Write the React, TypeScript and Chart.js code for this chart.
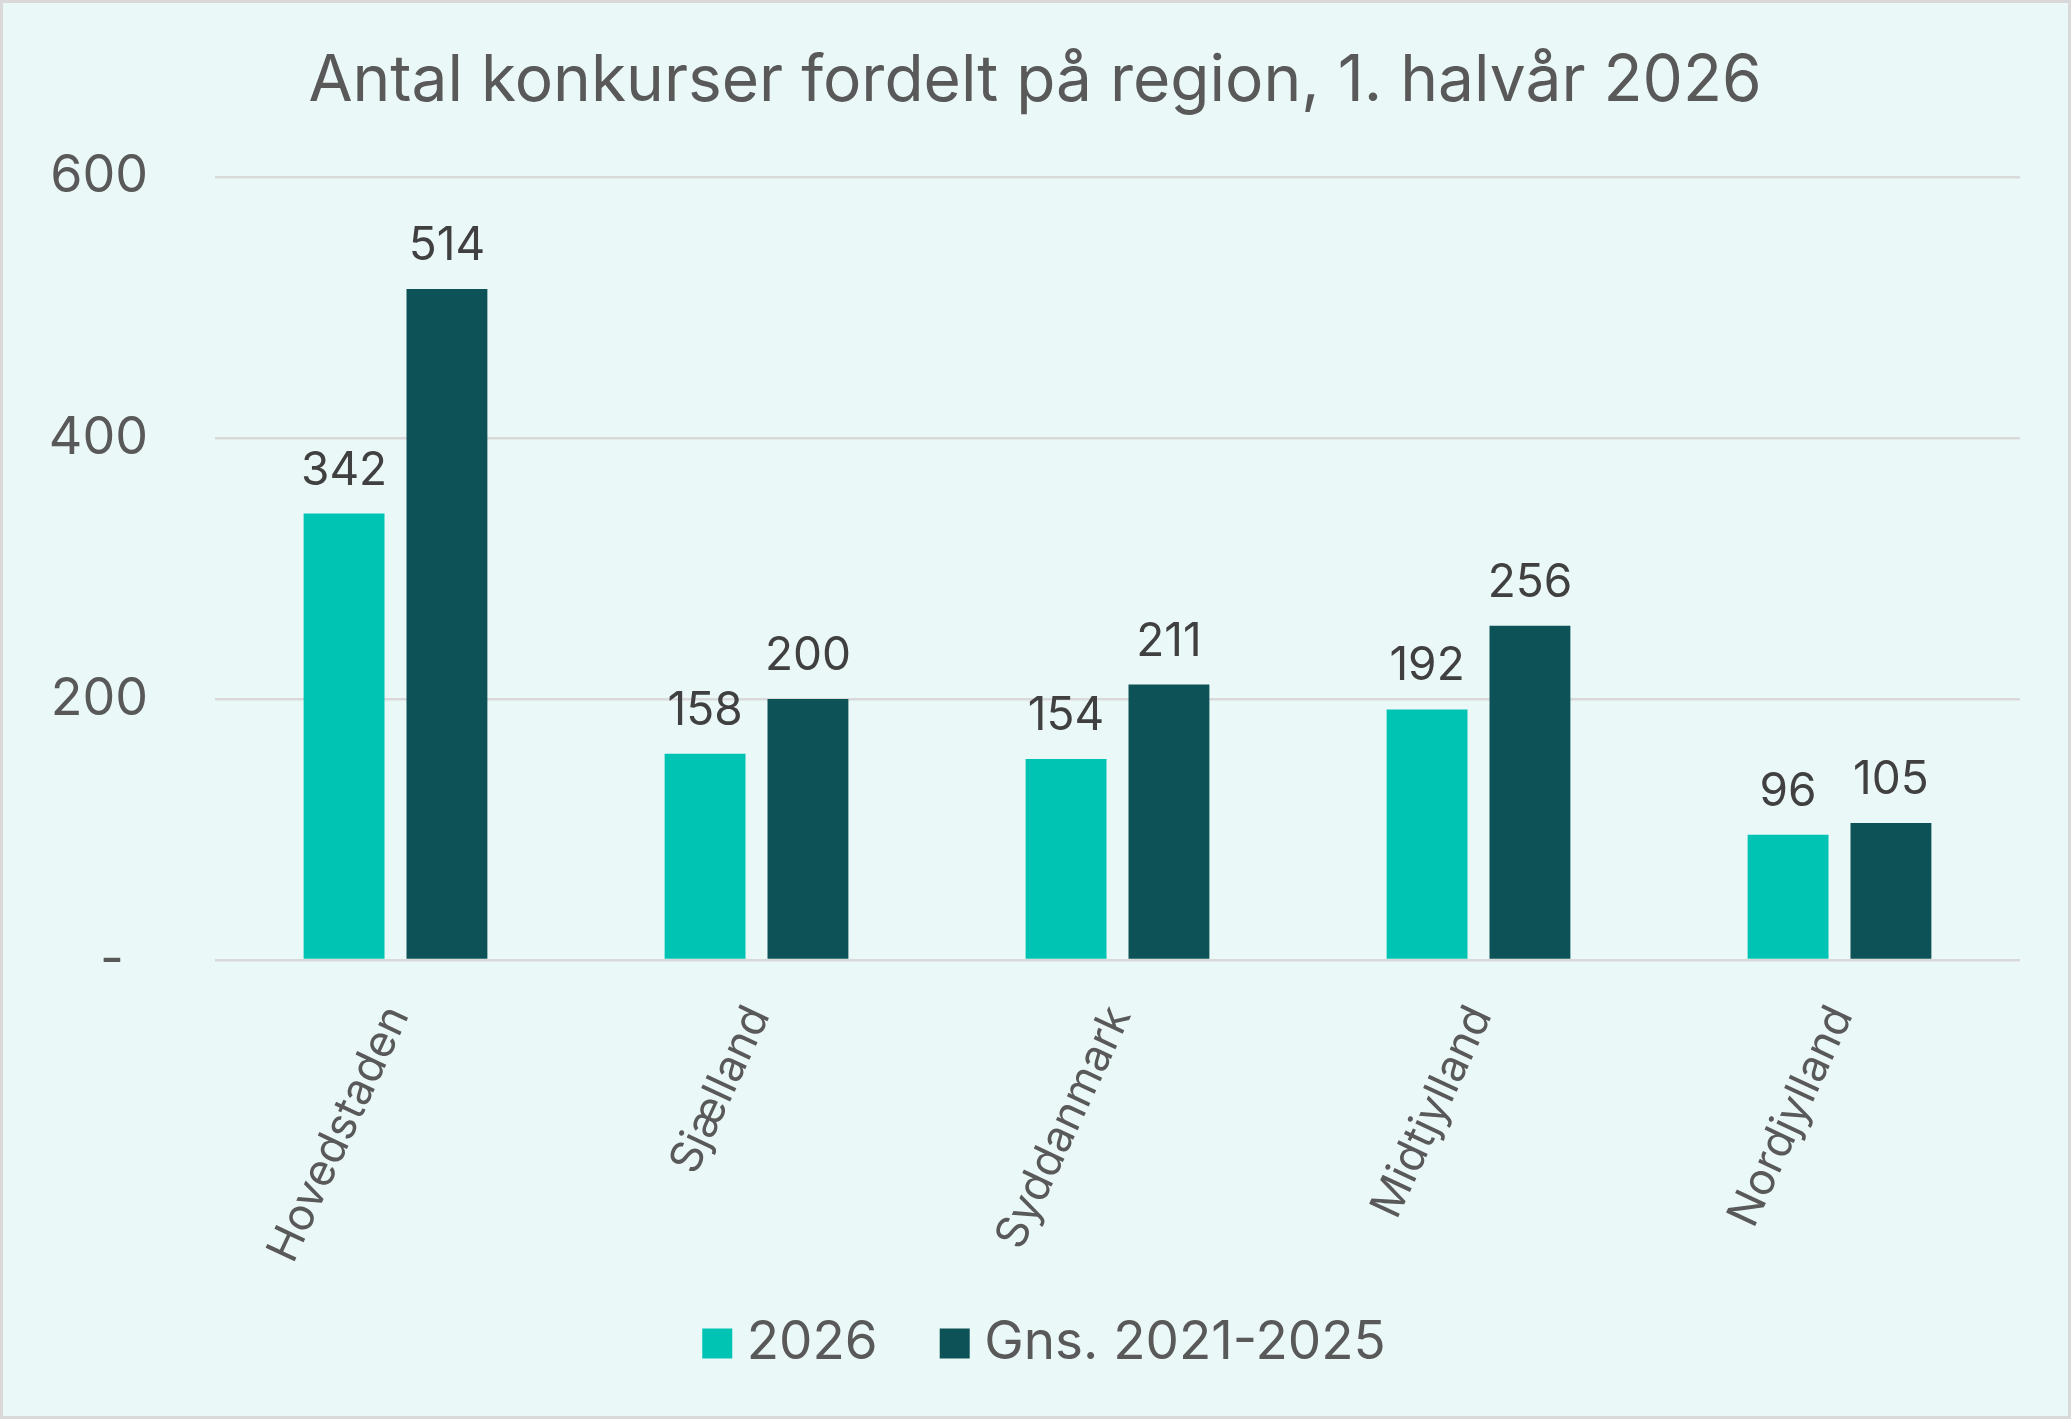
import { useEffect, useRef } from 'react';
import Chart from 'chart.js/auto';

const regions = ['Hovedstaden', 'Sjælland', 'Syddanmark', 'Midtjylland', 'Nordjylland'];
const values2026 = [342, 158, 154, 192, 96];
const valuesAvg = [514, 200, 211, 256, 105];
const seriesNames = ['2026', 'Gns. 2021-2025'];
const yTicks = [0, 200, 400, 600];

const FONT = 'Inter, "Noto Sans", sans-serif';
const TEXT = '#595959';

// draws the values above each bar
const valueLabels = {
  id: 'valueLabels',
  afterDatasetsDraw(chart: any) {
    const ctx = chart.ctx;
    ctx.save();
    ctx.font = `46px ${FONT}`;
    ctx.fillStyle = '#404040';
    ctx.textAlign = 'center';
    ctx.textBaseline = 'alphabetic';
    chart.data.datasets.forEach((ds: any, i: number) => {
      const meta = chart.getDatasetMeta(i);
      meta.data.forEach((bar: any, j: number) => {
        ctx.fillText(String(ds.data[j]), bar.x, bar.y - 29);
      });
    });
    ctx.restore();
  },
};

// background and thin frame, plus a small nudge of the legend row
const frame = {
  id: 'frame',
  afterLayout(chart: any) {
    const lg = chart.legend;
    if (lg) {
      lg.left += 15;
      lg.right += 15;
      lg.top -= 27;
      lg.bottom -= 27;
    }
  },
  beforeDraw(chart: any) {
    const { ctx, width, height } = chart;
    ctx.save();
    ctx.fillStyle = '#EAF8F7';
    ctx.fillRect(0, 0, width, height);
    ctx.strokeStyle = '#D9D9D9';
    ctx.lineWidth = 3;
    ctx.strokeRect(1.5, 1.5, width - 3, height - 3);
    ctx.restore();
  },
};

const App = () => {
  const chartRef = useRef<HTMLCanvasElement>(null);
  const chartInstance = useRef<Chart | null>(null);

  useEffect(() => {
    document.body.style.margin = '0';
    if (!chartRef.current) return;
    if (chartInstance.current) chartInstance.current.destroy();

    chartInstance.current = new Chart(chartRef.current, {
      type: 'bar',
      data: {
        labels: regions,
        datasets: [
          {
            label: seriesNames[0],
            data: values2026,
            backgroundColor: '#00C4B3',
            categoryPercentage: 0.57,
            barPercentage: 0.786,
          },
          {
            label: seriesNames[1],
            data: valuesAvg,
            backgroundColor: '#0D5257',
            categoryPercentage: 0.57,
            barPercentage: 0.786,
          },
        ],
      },
      options: {
        animation: false,
        responsive: true,
        maintainAspectRatio: false,
        layout: { padding: { left: 50, right: 51, top: 0, bottom: 12 } },
        plugins: {
          title: {
            display: true,
            text: 'Antal konkurser fordelt på region, 1. halvår 2026',
            color: TEXT,
            font: { family: FONT, size: 64, weight: 'normal', lineHeight: 1.2 },
            padding: { top: 43, bottom: 57 },
          },
          legend: {
            position: 'bottom',
            labels: {
              usePointStyle: true,
              pointStyle: 'rect',
              boxWidth: 6,
              boxHeight: 30,
              padding: 74,
              color: TEXT,
              font: { family: FONT, size: 53 },
            },
          },
          tooltip: { enabled: false },
        },
        scales: {
          x: {
            grid: { display: false },
            border: { display: false },
            ticks: {
              color: TEXT,
              font: { family: FONT, size: 44 },
              minRotation: 65,
              maxRotation: 65,
              padding: 30,
              labelOffset: 2,
            },
            afterFit: (scale: any) => {
              scale.height = 310;
            },
          },
          y: {
            min: 0,
            max: 600,
            afterBuildTicks: (scale: any) => {
              scale.ticks = yTicks.map((v) => ({ value: v }));
            },
            grid: { color: '#D9D9D9', lineWidth: 2.5, drawTicks: false },
            border: { display: false },
            ticks: {
              color: TEXT,
              font: { family: FONT, size: 52 },
              padding: 67,
              callback: (v: any) => (Number(v) === 0 ? '-\u00a0\u2009' : String(v)),
            },
            afterFit: (scale: any) => {
              scale.width = 165;
            },
          },
        },
      },
      plugins: [frame, valueLabels],
    });

    return () => {
      if (chartInstance.current) {
        chartInstance.current.destroy();
        chartInstance.current = null;
      }
    };
  }, []);

  return (
    <div style={{ width: 2071, height: 1419, position: 'relative' }}>
      <canvas ref={chartRef} />
    </div>
  );
};

export default App;
